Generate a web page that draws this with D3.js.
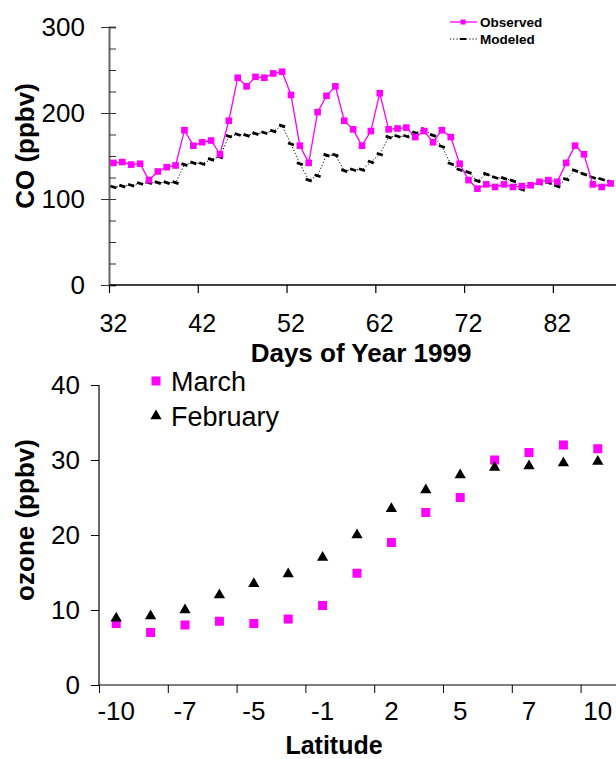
<!DOCTYPE html>
<html>
<head>
<meta charset="utf-8">
<script src="https://cdn.jsdelivr.net/npm/d3@7"></script>
<style>
  html, body { margin: 0; padding: 0; background: #fff; }
  svg { display: block; font-family: "Liberation Sans", Arial, Helvetica, sans-serif; }
</style>
</head>
<body>
<svg id="chart" width="616" height="759"></svg>
<script>
// ---- CO time series, days 32..88 of 1999 ----
const days = [32,33,34,35,36,37,38,39,40,41,42,43,44,45,46,47,48,49,50,51,52,53,54,55,56,57,58,59,
              60,61,62,63,64,65,66,67,68,69,70,71,72,73,74,75,76,77,78,79,80,81,82,83,84,85,86,87,88];
const observedCO = [142,143,140,141,122,132,137,139,180,162,166,168,152,191,241,231,242,241,246,248,
                    221,162,142,201,220,231,191,181,
                    162,179,223,181,182,183,172,179,166,180,172,141,122,112,117,114,117,114,115,116,
                    120,122,120,142,162,152,117,114,118];
const modeledCO = [114,115,116,118,119,119,119,119,140,142,141,146,149,173,175,174,176,177,179,185,
                   164,141,122,127,151,151,133,134,
                   134,143,152,172,173,173,177,181,174,161,141,134,131,121,129,125,124,121,111,115,
                   118,119,115,123,133,129,125,123,120];
const coTicks = [0, 100, 200, 300];
const dayTickLabels = [32, 42, 52, 62, 72, 82];

// ---- Ozone by latitude ----
const latitudes = ["-10","-9","-7","-6","-5","-3","-1","0","2","3","5","6","7","9","10"];
const latitudeTickLabels = ["-10","-7","-5","-1","2","5","7","10"];
const ozoneMarch = [8.2,7.0,8.0,8.5,8.2,8.8,10.6,14.9,19.0,23.0,25.0,30.0,31.0,32.0,31.5];
const ozoneFebruary = [8.9,9.2,10.0,12.0,13.5,14.8,17.0,20.0,23.5,26.0,28.0,29.0,29.2,29.6,29.8];
const ozoneTicks = [0, 10, 20, 30, 40];

const MAGENTA = "#ff00ff";
const svg = d3.select("#chart");

// ================= Top panel: CO =================
const coPanel = { left: 109, right: 615, y0: 285, y1: 27 };
const xDay = d3.scaleBand().domain(days).range([coPanel.left, coPanel.right]).padding(0);
const xDayIdx = d3.scaleLinear().domain([0, days.length]).range([coPanel.left, coPanel.right]);
const yCO = d3.scaleLinear().domain([0, 300]).range([coPanel.y0, coPanel.y1]);
const cx = d => xDay(d) + xDay.bandwidth() / 2;

// y axis: major ticks outward with labels, minor ticks inward every 25
const gyMinor = svg.append("g").attr("transform", `translate(${coPanel.left},0)`)
  .call(d3.axisRight(yCO).tickValues(d3.range(0, 301, 25)).tickSize(7).tickFormat(""));
gyMinor.select(".domain").attr("stroke", "#666").attr("stroke-width", 2);
gyMinor.selectAll(".tick line").attr("stroke", "#333");

const gy = svg.append("g").attr("transform", `translate(${coPanel.left},0)`)
  .call(d3.axisLeft(yCO).tickValues(coTicks).tickSize(8).tickPadding(16));
gy.select(".domain").remove();
gy.selectAll(".tick line").attr("stroke", "#333");
gy.selectAll(".tick text").attr("font-size", 26).attr("fill", "#000").attr("font-family", null);

// x axis: ticks on category boundaries every 10 days, labels centred on categories
const gx = svg.append("g").attr("transform", `translate(0,${coPanel.y0})`)
  .call(d3.axisBottom(xDayIdx).tickValues([0, 10, 20, 30, 40, 50]).tickSize(8).tickFormat(""));
gx.select(".domain").attr("d", `M${coPanel.left},0H616`).attr("stroke", "#000").attr("stroke-width", 1.5);
gx.selectAll(".tick line").attr("stroke", "#000").attr("stroke-width", 1.2);

const gxl = svg.append("g").attr("transform", `translate(0,${coPanel.y0})`)
  .call(d3.axisBottom(xDay).tickValues(dayTickLabels).tickSize(0).tickPadding(29));
gxl.select(".domain").remove();
gxl.selectAll(".tick text").attr("font-size", 25).attr("fill", "#000").attr("font-family", null);

svg.append("text").attr("x", 361).attr("y", 361.5).attr("text-anchor", "middle")
  .attr("font-size", 26).attr("font-weight", "bold").text("Days of Year 1999");
svg.append("text").attr("transform", "translate(34,146) rotate(-90)").attr("text-anchor", "middle")
  .attr("font-size", 26).attr("font-weight", "bold").text("CO (ppbv)");

// modeled: dotted line with dash markers
const line = d3.line().x((d, i) => cx(days[i])).y(d => yCO(d));
svg.append("path").datum(modeledCO).attr("d", line)
  .attr("fill", "none").attr("stroke", "#000").attr("stroke-width", 1).attr("stroke-dasharray", "1.2,2");
const dashMarker = (g, x, y) => g.append("line")
  .attr("x1", x - 3).attr("y1", y - 1).attr("x2", x + 3).attr("y2", y + 1)
  .attr("stroke", "#000").attr("stroke-width", 2.8);
const gMod = svg.append("g");
modeledCO.forEach((v, i) => dashMarker(gMod, cx(days[i]), yCO(v)));

// observed: magenta line with square markers
svg.append("path").datum(observedCO).attr("d", line)
  .attr("fill", "none").attr("stroke", MAGENTA).attr("stroke-width", 1.3);
svg.append("g").selectAll("rect").data(observedCO).join("rect")
  .attr("x", (d, i) => cx(days[i]) - 3.3).attr("y", d => yCO(d) - 3.3)
  .attr("width", 6.6).attr("height", 6.6).attr("fill", MAGENTA);

// legend
const lg = svg.append("g");
lg.append("line").attr("x1", 450).attr("x2", 477).attr("y1", 22).attr("y2", 22)
  .attr("stroke", MAGENTA).attr("stroke-width", 1.3);
lg.append("rect").attr("x", 460.5).attr("y", 19.5).attr("width", 5).attr("height", 5).attr("fill", MAGENTA);
lg.append("text").attr("x", 480).attr("y", 26.5).attr("font-size", 13.5).attr("font-weight", "bold").text("Observed");
lg.append("line").attr("x1", 450).attr("x2", 477).attr("y1", 39).attr("y2", 39)
  .attr("stroke", "#000").attr("stroke-width", 1).attr("stroke-dasharray", "1.2,2");
lg.append("line").attr("x1", 460).attr("x2", 466).attr("y1", 39).attr("y2", 39)
  .attr("stroke", "#000").attr("stroke-width", 2);
lg.append("text").attr("x", 480).attr("y", 44).attr("font-size", 13.5).attr("font-weight", "bold").text("Modeled");

// ================= Bottom panel: ozone =================
const ozPanel = { left: 99, right: 615, y0: 685, y1: 385 };
const xLat = d3.scaleBand().domain(latitudes).range([ozPanel.left, ozPanel.right]).padding(0);
const xLatIdx = d3.scaleLinear().domain([0, latitudes.length]).range([ozPanel.left, ozPanel.right]);
const yOz = d3.scaleLinear().domain([0, 40]).range([ozPanel.y0, ozPanel.y1]);
const lx = d => xLat(d) + xLat.bandwidth() / 2;

const gy2 = svg.append("g").attr("transform", `translate(${ozPanel.left},0)`)
  .call(d3.axisLeft(yOz).tickValues(ozoneTicks).tickSize(8).tickPadding(11));
gy2.select(".domain").attr("d", `M0,${ozPanel.y1}V${ozPanel.y0}`).attr("stroke", "#000").attr("stroke-width", 1.2);
gy2.selectAll(".tick line").attr("stroke", "#000");
gy2.selectAll(".tick text").attr("font-size", 26).attr("fill", "#000").attr("font-family", null);

const gx2 = svg.append("g").attr("transform", `translate(0,${ozPanel.y0})`)
  .call(d3.axisBottom(xLatIdx).tickValues(d3.range(0, latitudes.length, 2)).tickSize(8).tickFormat(""));
gx2.select(".domain").attr("d", `M${ozPanel.left},0H616`).attr("stroke", "#000").attr("stroke-width", 1.2);
gx2.selectAll(".tick line").attr("stroke", "#000");

const gx2l = svg.append("g").attr("transform", `translate(0,${ozPanel.y0})`)
  .call(d3.axisBottom(xLat).tickValues(latitudeTickLabels).tickSize(0).tickPadding(17));
gx2l.select(".domain").remove();
gx2l.selectAll(".tick text").attr("font-size", 26).attr("fill", "#000").attr("font-family", null);

svg.append("text").attr("x", 334).attr("y", 753.5).attr("text-anchor", "middle")
  .attr("font-size", 25).attr("font-weight", "bold").text("Latitude");
svg.append("text").attr("transform", "translate(34,520) rotate(-90)").attr("text-anchor", "middle")
  .attr("font-size", 26).attr("font-weight", "bold").text("ozone (ppbv)");

const tri = d3.symbol().type(d3.symbolTriangle).size(55);
svg.append("g").selectAll("rect").data(ozoneMarch).join("rect")
  .attr("x", (d, i) => lx(latitudes[i]) - 4.5).attr("y", d => yOz(d) - 4.5)
  .attr("width", 9).attr("height", 9).attr("fill", MAGENTA);
svg.append("g").selectAll("path").data(ozoneFebruary).join("path")
  .attr("d", tri).attr("transform", (d, i) => `translate(${lx(latitudes[i])},${yOz(d)})`)
  .attr("fill", "#000");

// legend
svg.append("rect").attr("x", 151.5).attr("y", 376.5).attr("width", 9).attr("height", 9).attr("fill", MAGENTA);
svg.append("text").attr("x", 171).attr("y", 391).attr("font-size", 27).text("March");
svg.append("path").attr("d", tri).attr("transform", "translate(156,416)").attr("fill", "#000");
svg.append("text").attr("x", 171).attr("y", 426).attr("font-size", 27).text("February");
</script>
</body>
</html>
